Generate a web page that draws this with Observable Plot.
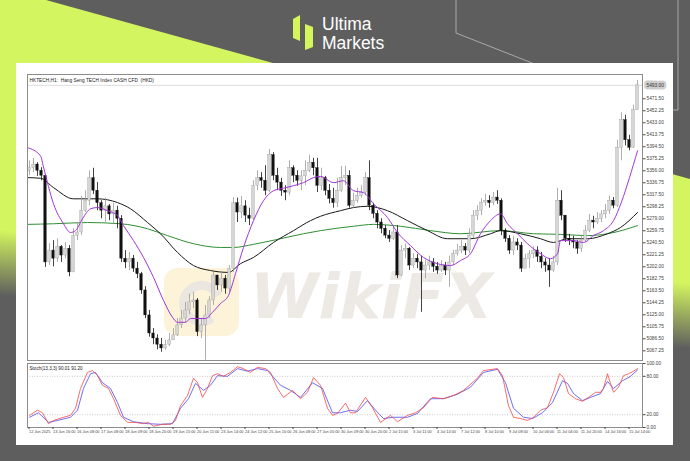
<!DOCTYPE html>
<html><head><meta charset="utf-8">
<script src="https://cdn.jsdelivr.net/npm/d3@7"></script>
<script src="https://cdn.jsdelivr.net/npm/@observablehq/plot@0.6"></script>
<style>
html,body{margin:0;padding:0;background:#5e5e5e;}
#wrap{position:relative;width:690px;height:461px;overflow:hidden;background:#5e5e5e;}
#wrap > svg{position:absolute;left:0;top:0;}
</style></head><body><div id="wrap">
<svg id="bg" width="690" height="461" viewBox="0 0 690 461">
<defs><linearGradient id="lg" gradientUnits="userSpaceOnUse" x1="347" y1="257" x2="342" y2="322"><stop offset="0" stop-color="#d3f55f"/><stop offset="1" stop-color="#5e5e5e"/></linearGradient></defs>
<rect width="690" height="461" fill="#5e5e5e"/>
<polygon points="0,0 46,0 690,179 690,461 0,461" fill="url(#lg)"/>
<polyline points="456,0 456,33 560,74" fill="none" stroke="#bdbdbd" stroke-width="0.8"/>
<polyline points="678,0 678,110 660,110" fill="none" stroke="#bdbdbd" stroke-width="0.8"/>
<rect x="16" y="63" width="657" height="382" fill="#ffffff"/>
<polygon points="293,19 300,15 300,41 293,38" fill="#d4f65c"/>
<polygon points="305,24 313,27 313,47 305,50" fill="#d4f65c"/>
<text x="322" y="29.5" font-family="Liberation Sans, Arial, sans-serif" font-size="17.5" fill="#ffffff">Ultima</text>
<text x="322" y="49.3" font-family="Liberation Sans, Arial, sans-serif" font-size="17.5" fill="#ffffff">Markets</text>
<rect x="164" y="268" width="75" height="68" rx="14" fill="#fcf3d8"/>
<path d="M218,296 a18,18 0 1 0 -6,22" fill="none" stroke="#ebe6e0" stroke-width="9"/>
<text x="250" y="318" font-family="DejaVu Sans" font-weight="bold" font-style="italic" font-size="62" fill="#ede9e5">WikiFX</text>
</svg>
</div>
<script>
// ---- Price data (H1 candles), bar index 0..152 ----
const firstOpen = 5356;
const close = [5360,5366,5356,5348,5209,5228,5215,5234,5220,5231,
5193,5251,5257,5292,5308,5344,5324,5304,5292,5299,
5286,5292,5279,5215,5209,5215,5199,5190,5164,5124,
5095,5087,5077,5071,5077,5084,5092,5108,5119,5132,
5145,5148,5097,5108,5124,5148,5188,5172,5183,5167,
5199,5304,5289,5299,5284,5279,5332,5344,5340,5324,
5381,5348,5337,5324,5321,5360,5348,5340,5347,5356,
5369,5360,5332,5344,5324,5311,5304,5324,5344,5348,
5300,5308,5316,5321,5344,5300,5287,5273,5263,5252,
5247,5257,5188,5228,5231,5204,5215,5209,5196,5204,
5209,5202,5196,5204,5196,5209,5223,5228,5234,5228,
5252,5284,5292,5305,5308,5304,5313,5308,5260,5247,
5228,5241,5236,5199,5215,5222,5228,5218,5209,5204,
5196,5209,5308,5284,5247,5244,5241,5231,5244,5260,
5276,5273,5279,5286,5292,5308,5300,5393,5437,5405,
5393,5453,5493];
const high = [5372,5376,5369,5361,5316,5239,5244,5247,5236,5241,
5236,5263,5273,5315,5324,5356,5360,5337,5308,5312,
5302,5304,5299,5284,5228,5225,5220,5209,5193,5170,
5132,5103,5093,5087,5084,5095,5103,5119,5132,5145,
5158,5161,5151,5119,5140,5154,5193,5186,5193,5188,
5204,5313,5312,5315,5308,5296,5340,5356,5353,5364,
5390,5385,5360,5344,5332,5372,5364,5356,5356,5372,
5381,5376,5376,5360,5347,5334,5328,5344,5363,5363,
5356,5320,5328,5332,5353,5372,5304,5292,5279,5268,
5260,5267,5268,5236,5239,5233,5223,5222,5219,5212,
5219,5215,5209,5212,5209,5219,5228,5238,5244,5239,
5263,5292,5300,5311,5318,5316,5321,5324,5311,5263,
5252,5251,5247,5241,5222,5228,5234,5234,5225,5215,
5215,5219,5328,5324,5284,5254,5251,5244,5251,5268,
5286,5283,5289,5292,5302,5315,5313,5405,5449,5445,
5413,5461,5501];
const low = [5348,5353,5347,5340,5201,5204,5202,5209,5209,5215,
5186,5193,5244,5252,5289,5300,5318,5292,5279,5273,
5276,5270,5263,5209,5199,5196,5193,5183,5158,5119,
5089,5077,5069,5065,5068,5074,5084,5090,5103,5112,
5125,5135,5090,5087,5052,5119,5140,5164,5161,5158,
5161,5193,5273,5279,5273,5268,5276,5324,5328,5316,
5321,5340,5324,5315,5308,5316,5337,5331,5324,5332,
5353,5348,5321,5324,5316,5303,5296,5297,5321,5332,
5296,5296,5304,5312,5316,5292,5279,5263,5255,5247,
5241,5244,5183,5186,5215,5196,5199,5199,5129,5183,
5196,5193,5190,5193,5188,5169,5204,5219,5223,5220,
5223,5247,5276,5284,5299,5296,5300,5302,5252,5241,
5222,5220,5228,5193,5204,5199,5215,5209,5199,5193,
5169,5193,5204,5276,5241,5236,5231,5222,5225,5241,
5257,5263,5270,5273,5279,5286,5295,5297,5372,5396,
5388,5392,5469];

// ---- Moving averages: [bar index, price] ----
const maFast = [[-0.5,5393],[2.75,5380],[3.5,5362],[6,5303],[8.5,5271],[10.25,5257],[11.5,5260],[13.25,5279],[15.25,5295],[17,5297],[19.5,5292],[22,5284],[23.5,5268],[26,5244],[28.5,5217],[31,5185],[33.5,5148],[35.75,5121],[37,5113],[39,5113],[40.25,5119],[42,5119],[44,5119],[45.75,5129],[47.75,5143],[49.75,5156],[51.5,5191],[53.5,5233],[56,5276],[58.5,5308],[61,5324],[63.5,5328],[66,5332],[68.5,5337],[71,5345],[72.75,5347],[76,5337],[78.5,5340],[81,5324],[83.5,5321],[86,5303],[89.5,5281],[92,5257],[95.25,5236],[98.5,5217],[102,5207],[105.25,5204],[107.75,5212],[110.25,5223],[112.75,5255],[115.25,5276],[117.75,5287],[119.5,5271],[122,5255],[124.5,5239],[127.75,5223],[130.25,5215],[132,5223],[132.75,5244],[136,5244],[138.5,5241],[141,5252],[143.5,5260],[146,5276],[148,5306],[150,5345],[152,5388]];
const maMid = [[-0.5,5345],[2.75,5344],[6,5329],[11,5311],[17,5311],[22,5305],[25.25,5295],[29.5,5273],[32.75,5255],[37,5225],[41,5204],[45.25,5196],[49.75,5193],[52.75,5207],[56,5217],[61,5241],[66,5260],[70.25,5276],[72.75,5283],[77.75,5292],[81,5297],[84.5,5299],[89.5,5292],[94.5,5276],[99.5,5260],[104.5,5247],[110.25,5247],[115.25,5255],[117.75,5260],[122.75,5255],[127.75,5247],[131,5241],[134.5,5247],[139.5,5247],[144.5,5255],[147.75,5265],[152,5289]];
const maSlow = [[-0.5,5270],[6,5271],[14.5,5273],[22.75,5271],[29.5,5263],[34.5,5252],[41,5239],[47.75,5233],[51,5233],[56,5238],[62.75,5247],[68.5,5255],[72.75,5260],[81,5267],[86,5270],[92.75,5267],[100.25,5260],[107.75,5255],[117.75,5260],[126,5255],[132.75,5254],[139.5,5252],[144.5,5255],[152,5268]];

// ---- Stochastic: [bar index, value] ----
const stochK = [[0,19],[2,27],[3.25,23],[4.75,6],[6,11],[8.5,16],[10.25,19],[11.5,30],[12.75,61],[14.5,86],[15.75,89],[17,81],[18.25,66],[19.75,61],[21,45],[22.75,19],[24.5,8],[26.5,8],[28.25,6],[29.75,8],[31,2],[33.25,5],[35.25,5],[36.5,11],[37.75,34],[39.5,50],[41,77],[42,70],[43.25,47],[44.5,61],[45.75,81],[47,84],[48.5,80],[50.25,86],[52,95],[53.5,92],[55.25,86],[57,94],[59,92],[60.25,86],[62,61],[63.5,47],[65.75,58],[67.75,45],[69.5,55],[71,78],[72.75,66],[74.5,30],[75.75,19],[77,22],[79,38],[80.25,23],[81.5,23],[84,47],[85.75,31],[87.75,8],[90.25,19],[92,9],[94.5,19],[96.5,23],[98.5,31],[100.75,47],[103.5,45],[106,50],[108.5,58],[112,77],[113.5,89],[117,92],[118.25,81],[119.75,34],[121,16],[122.75,14],[124.5,11],[126,16],[127.75,27],[129.5,31],[131,55],[132.5,84],[133.5,78],[134.75,53],[136.5,45],[138.25,41],[139.75,47],[141.5,55],[142.75,55],[143.5,61],[144.5,84],[145.25,69],[146,55],[147.25,63],[148.5,81],[149.75,84],[151,88],[152,92]];
const stochD = [[0,16],[2.25,23],[4.75,8],[7,11],[10.25,16],[12,27],[13.5,61],[15.25,84],[16.5,86],[18.25,70],[20.25,61],[22,39],[23.5,16],[26,9],[29.5,6],[32.75,5],[35.75,6],[37.75,30],[39.75,45],[41.5,69],[43.5,58],[45.25,66],[47,81],[49.5,80],[52,92],[54.5,88],[57,92],[59.5,89],[62.75,66],[65.25,58],[67.75,47],[70.75,70],[73.25,61],[75.75,23],[77.75,23],[80.25,27],[82,25],[84.5,42],[86.5,27],[88.5,14],[91,16],[94.5,16],[97,22],[100.25,45],[103.5,45],[107,52],[110.25,63],[113.5,86],[117,91],[119,70],[121,30],[123.5,16],[125.75,14],[128.25,23],[130.75,39],[133.25,73],[134.5,69],[136,53],[138.25,42],[140.25,47],[142.75,53],[144.5,72],[146,61],[148.25,73],[150.25,80],[152,90]];
const stochLevels = [20, 80];
const stochTicks = [0, 20, 80, 100];

// ---- Axis labels ----
const priceTicks = [5067.25,5086.50,5105.75,5125.00,5144.25,5163.50,5182.75,5202.00,5221.25,5240.50,5259.75,5279.00,5298.25,5317.50,5336.75,5356.00,5375.25,5394.50,5413.75,5433.00,5452.25,5471.50];
const dateIdx = [0,6,12,18,24,30,36,42,48,54,60,66,72,78,84,90,96,102,108,114,120,126,132,138,144,150];
const dateLabels = ["12 Jun 2025","13 Jun 16:00","16 Jun 08:00","17 Jun 08:00","18 Jun 09:00","18 Jun 20:00","19 Jun 15:00","20 Jun 11:00","23 Jun 14:00","24 Jun 12:00","25 Jun 10:00","26 Jun 08:00","27 Jun 05:00","30 Jun 09:00","30 Jun 20:00","2 Jul 15:00","3 Jul 11:00","4 Jul 14:00","7 Jul 12:00","8 Jul 10:00","9 Jul 08:00","10 Jul 06:00","11 Jul 04:00","11 Jul 20:00","14 Jul 16:00","15 Jul 14:00"];
const chartTitle = "HKTECH,H1:  Hang Seng TECH Index CASH CFD  (HKD)";
const stochTitle = "Stoch(13,3,3) 90.01 91.20";

const candles = close.map((c, i) => {
  const o = i === 0 ? firstOpen : close[i - 1];
  return {i, open: o, close: c, top: Math.max(high[i], o, c), bot: Math.min(low[i], o, c), up: c >= o};
});
const bulls = candles.filter(d => d.up), bears = candles.filter(d => !d.up);
const last = close[close.length - 1];

const font = "Liberation Sans, Arial, sans-serif";
const xDomain = [-0.5, 153.25];
const common = {width: 690, height: 461, marginLeft: 27, marginRight: 48,
  style: {background: "transparent", overflow: "visible", fontFamily: font}};

const main = Plot.plot({
  ...common, marginTop: 74, marginBottom: 101,
  x: {domain: xDomain, axis: null},
  y: {domain: [5051.7, 5510.4]},
  marks: [
    Plot.ruleY([last], {stroke: "#d4d4d4", strokeWidth: 0.8}),
    Plot.line(maSlow, {x: d => d[0], y: d => d[1], stroke: "#2f8f33", strokeWidth: 1, curve: "monotone-x"}),
    Plot.line(maMid, {x: d => d[0], y: d => d[1], stroke: "#1a1a1a", strokeWidth: 1, curve: "monotone-x"}),
    Plot.ruleX(bulls, {x: "i", y1: "bot", y2: "top", stroke: "#9a9a9a", strokeWidth: 0.8}),
    Plot.ruleX(bears, {x: "i", y1: "bot", y2: "top", stroke: "#111", strokeWidth: 0.8}),
    Plot.rect(bulls, {x1: d => d.i - 0.3, x2: d => d.i + 0.3, y1: "open", y2: "close", fill: "#d6d6d6", stroke: "#9a9a9a", strokeWidth: 0.4}),
    Plot.rect(bears, {x1: d => d.i - 0.3, x2: d => d.i + 0.3, y1: "open", y2: "close", fill: "#111", stroke: "#111", strokeWidth: 0.4}),
    Plot.line(maFast, {x: d => d[0], y: d => d[1], stroke: "#a235d6", strokeWidth: 1, curve: "monotone-x"}),
    Plot.frame({stroke: "#8c8c8c", strokeWidth: 1}),
    Plot.axisY({anchor: "right", ticks: priceTicks, tickFormat: d => d.toFixed(2), tickSize: 2.5, tickPadding: 1.5, fontSize: 4.8, color: "#444"}),
    Plot.text([last], {y: d => d, frameAnchor: "right", dx: 4, textAnchor: "start", text: d => d.toFixed(2), fontSize: 4.8, fill: "#333", stroke: "#cdcdcd", strokeWidth: 5}),
    Plot.text([chartTitle], {frameAnchor: "top-left", dx: 2, dy: 4, textAnchor: "start", fontSize: 4.8, fill: "#222"})
  ]
});

const stoch = Plot.plot({
  ...common, marginTop: 363, marginBottom: 34,
  x: {domain: xDomain},
  y: {domain: [0, 100]},
  marks: [
    Plot.ruleY(stochLevels, {stroke: "#aaaaaa", strokeWidth: 0.6, strokeDasharray: "1,1.5"}),
    Plot.line(stochD, {x: d => d[0], y: d => d[1], stroke: "#4a4af0", strokeWidth: 0.8}),
    Plot.line(stochK, {x: d => d[0], y: d => d[1], stroke: "#f04848", strokeWidth: 0.8}),
    Plot.frame({stroke: "#8c8c8c", strokeWidth: 1}),
    Plot.axisY({anchor: "right", ticks: stochTicks, tickFormat: d => d.toFixed(2), tickSize: 2.5, tickPadding: 1.5, fontSize: 4.8, color: "#444"}),
    Plot.axisX({anchor: "bottom", ticks: dateIdx, tickFormat: d => dateLabels[dateIdx.indexOf(d)], textAnchor: "start", dx: -0.5, tickSize: 2, tickPadding: 1, fontSize: 3.9, color: "#444"}),
    Plot.text([stochTitle], {frameAnchor: "top-left", dx: 2, dy: 3.5, textAnchor: "start", fontSize: 4.6, fill: "#222"})
  ]
});

const wrap = document.getElementById("wrap");
wrap.appendChild(main);
wrap.appendChild(stoch);
</script></body></html>
